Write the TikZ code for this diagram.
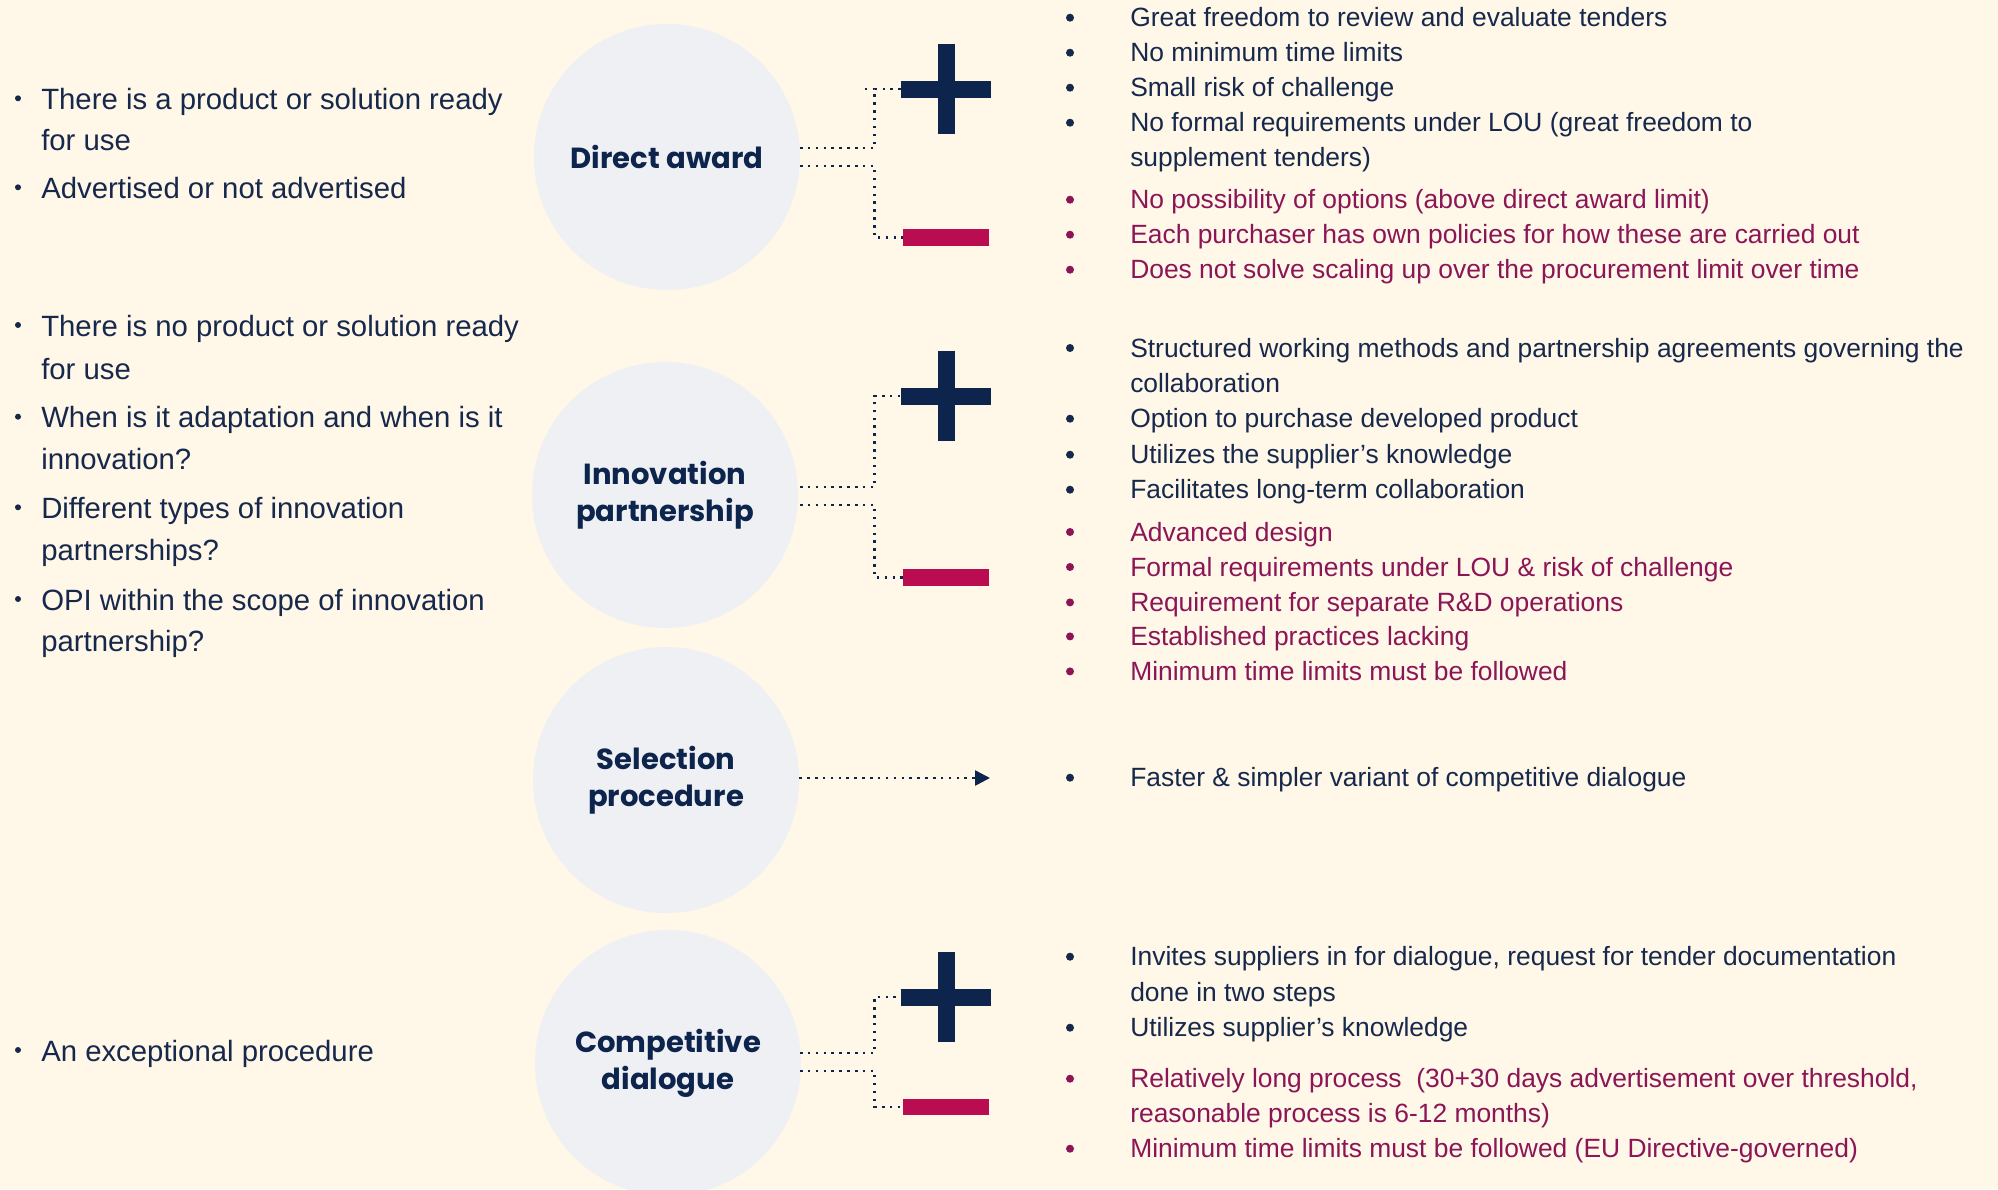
\documentclass[tikz,border=0pt]{standalone}
\usepackage{fontspec}
\setmainfont{Liberation Sans}
\newfontfamily\poppins{Poppins}
\usetikzlibrary{calc,arrows.meta}
\definecolor{bg}{RGB}{255,247,231}
\definecolor{circ}{RGB}{239,240,244}
\definecolor{navy}{RGB}{13,36,76}
\definecolor{txt}{RGB}{22,40,76}
\definecolor{crim}{RGB}{186,12,80}
\definecolor{cons}{RGB}{139,21,86}
% right item: name, baseline, text, colour
\newcommand\ritem[4]{%
  \node[rdot,fill=#4] (#1b) at (1070,#2-9) {};
  \node[rtext,text=#4] (#1) at (1130,#2) {#3};}
\newcommand\rcont[4]{%
  \node[rtext,text=#4] (#1) at (1130,#2) {#3};}
\newcommand\litem[3]{%
  \node[ldot] (#1b) at (18,#2-11) {};
  \node[ltext] (#1) at (41,#2) {#3};}
\newcommand\lcont[3]{%
  \node[ltext] (#1) at (41,#2) {#3};}
\begin{document}
\begin{tikzpicture}[x=0.75pt,y=-0.75pt,
 proc/.style={circle, fill=circ, minimum size=199.5pt, inner sep=0pt, align=center,
   font=\poppins\bfseries\fontsize{21.8}{27.75}\selectfont, text=navy},
 ltext/.style={anchor=base west, inner sep=0pt, font=\fontsize{22}{26}\selectfont, text=txt},
 ldot/.style={circle, fill=txt, minimum size=4.5pt, inner sep=0pt},
 rtext/.style={anchor=base west, inner sep=0pt, font=\fontsize{19.8}{22}\selectfont},
 rdot/.style={circle, minimum size=6pt, inner sep=0pt},
 plussign/.style={minimum width=67.5pt, minimum height=67.5pt, inner sep=0pt},
 minussign/.style={fill=crim, minimum width=64.5pt, minimum height=12.5pt, inner sep=0pt},
 conn/.style={navy, line width=1.9pt, dash pattern=on 1.9pt off 4pt},
 crossbar/.style={navy, line width=12.75pt},
]
\fill[bg] (0,0) rectangle (1998,1189);
\useasboundingbox (0,0) rectangle (1998,1189);
\begin{scope}
\clip (0,0) rectangle (1998,1189);
% circles
\node[proc] (da) at (667,157) {Direct award};
\node[proc] (ip) at (665,495) {Innovation\\partnership};
\node[proc] (sp) at (666,780) {Selection\\procedure};
\node[proc] (cd) at (668,1063) {Competitive\\dialogue};
\end{scope}
% plus and minus signs
\node[plussign] (dap) at (946,89) {};
\draw[crossbar] (dap.west) -- (dap.east) (dap.north) -- (dap.south);
\node[minussign] (dam) at (946,237.7) {};
\node[plussign] (ipp) at (946,396) {};
\draw[crossbar] (ipp.west) -- (ipp.east) (ipp.north) -- (ipp.south);
\node[minussign] (ipm) at (946,577.7) {};
\node[plussign] (cdp) at (946,997) {};
\draw[crossbar] (cdp.west) -- (cdp.east) (cdp.north) -- (cdp.south);
\node[minussign] (cdm) at (946,1107) {};
% connectors
\draw[conn] ($(da.center)+(133,-9)$) -| ($(dap.west)+(-26,0)$) -- (dap.west);
\draw[conn] ($(dap.west)+(-36,0)$) -- ($(dap.west)+(-27,0)$);
\draw[conn] ($(da.center)+(133,9)$) -| ($(dam.west)+(-28,0)$) -- (dam.west);
\draw[conn] ($(ip.center)+(135,-8)$) -| ($(ipp.west)+(-26,0)$) -- (ipp.west);
\draw[conn] ($(ip.center)+(135,10)$) -| ($(ipm.west)+(-28,0)$) -- (ipm.west);
\draw[conn] ($(cd.center)+(132,-10)$) -| ($(cdp.west)+(-26,0)$) -- (cdp.west);
\draw[conn] ($(cd.center)+(132,8)$) -| ($(cdm.west)+(-28,0)$) -- (cdm.west);
\coordinate (spend) at (990,778);
\draw[conn, -{Triangle[length=11.25pt, width=11.25pt]}] (sp.east |- spend) -- (spend);
% left texts
\litem{l1}{109.3}{There is a product or solution ready}
\lcont{l1c}{150}{for use}
\litem{l2}{198.3}{Advertised or not advertised}
\litem{l3}{336}{There is no product or solution ready}
\lcont{l3c}{379.3}{for use}
\litem{l4}{427.7}{When is it adaptation and when is it}
\lcont{l4c}{469.3}{innovation?}
\litem{l5}{518.3}{Different types of innovation}
\lcont{l5c}{560}{partnerships?}
\litem{l6}{610}{OPI within the scope of innovation}
\lcont{l6c}{651.7}{partnership?}
\litem{l7}{1061}{An exceptional procedure}
% right texts: direct award
\ritem{r1}{26.7}{Great freedom to review and evaluate tenders}{txt}
\ritem{r2}{61.7}{No minimum time limits}{txt}
\ritem{r3}{96.7}{Small risk of challenge}{txt}
\ritem{r4}{131.7}{No formal requirements under LOU (great freedom to}{txt}
\rcont{r4c}{166.7}{supplement tenders)}{txt}
\ritem{r5}{208.7}{No possibility of options (above direct award limit)}{cons}
\ritem{r6}{243.7}{Each purchaser has own policies for how these are carried out}{cons}
\ritem{r7}{278.7}{Does not solve scaling up over the procurement limit over time}{cons}
% innovation partnership
\ritem{r8}{357}{Structured working methods and partnership agreements governing the}{txt}
\rcont{r8c}{392}{collaboration}{txt}
\ritem{r9}{427.7}{Option to purchase developed product}{txt}
\ritem{r10}{463.7}{Utilizes the supplier’s knowledge}{txt}
\ritem{r11}{498.7}{Facilitates long-term collaboration}{txt}
\ritem{r12}{541}{Advanced design}{cons}
\ritem{r13}{576}{Formal requirements under LOU \& risk of challenge}{cons}
\ritem{r14}{611.4}{Requirement for separate R\&D operations}{cons}
\ritem{r15}{645.4}{Established practices lacking}{cons}
\ritem{r16}{680.4}{Minimum time limits must be followed}{cons}
% selection procedure
\ritem{r17}{786.7}{Faster \& simpler variant of competitive dialogue}{txt}
% competitive dialogue
\ritem{r18}{965.7}{Invites suppliers in for dialogue, request for tender documentation}{txt}
\rcont{r18c}{1001.7}{done in two steps}{txt}
\ritem{r19}{1036.7}{Utilizes supplier’s knowledge}{txt}
\ritem{r20}{1087.7}{Relatively long process\ \ (30+30 days advertisement over threshold,}{cons}
\rcont{r20c}{1122.7}{reasonable process is 6-12 months)}{cons}
\ritem{r21}{1157.7}{Minimum time limits must be followed (EU Directive-governed)}{cons}
\end{tikzpicture}
\end{document}
